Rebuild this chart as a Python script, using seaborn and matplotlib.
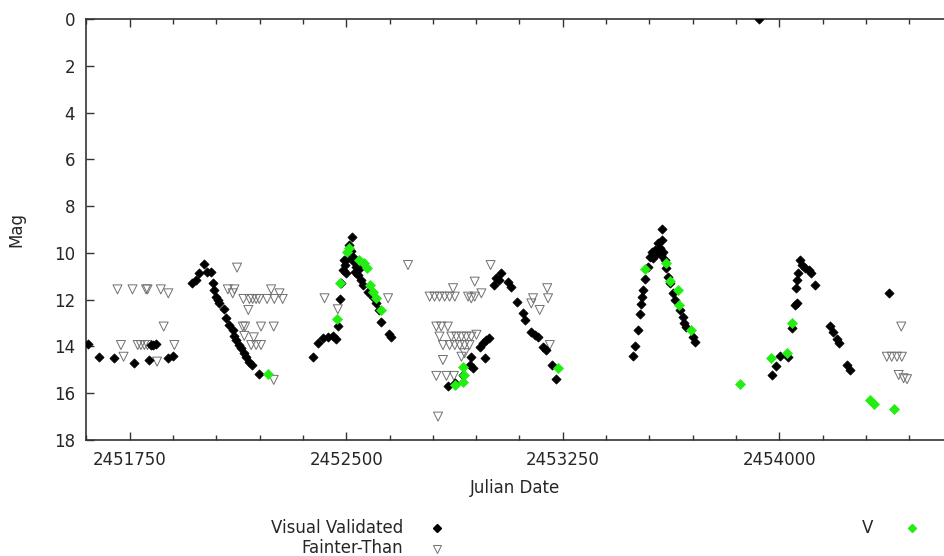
import numpy as np
import pandas as pd
import matplotlib
matplotlib.use("Agg")
import matplotlib.pyplot as plt
from matplotlib.lines import Line2D
from matplotlib.ticker import MultipleLocator
import seaborn as sns

# ---------------- data ----------------
vis_jd = [2451606, 2451645, 2451697, 2451764, 2451818, 2451824, 2451830, 2451841, 2451882, 2451899,
          2451966, 2451980, 2451991, 2452007, 2452018, 2452032, 2452038, 2452042, 2452049, 2452055,
          2452060, 2452078, 2452084, 2452095, 2452107, 2452113, 2452119, 2452130, 2452136, 2452147,
          2452153, 2452165, 2452173, 2452199,
          2452385, 2452402, 2452419, 2452437, 2452454, 2452465, 2452471, 2452477, 2452483, 2452489,
          2452494, 2452497, 2452500, 2452505, 2452511, 2452515, 2452520, 2452523, 2452528, 2452530,
          2452535, 2452541, 2452545, 2452552, 2452558, 2452575, 2452592, 2452604, 2452612, 2452619,
          2452648, 2452656,
          2452852, 2452876, 2452905, 2452927, 2452939, 2452931, 2452962, 2452974, 2452985, 2452993,
          2452979, 2453012, 2453020, 2453028, 2453035, 2453061, 2453072, 2453093, 2453113, 2453118,
          2453141, 2453153, 2453165, 2453182, 2453193, 2453211, 2453225,
          2453494, 2453499, 2453511, 2453517, 2453520, 2453525, 2453528, 2453536, 2453546, 2453552,
          2453558, 2453563, 2453569, 2453575, 2453581, 2453586, 2453590, 2453593, 2453595, 2453597,
          2453603, 2453609, 2453615, 2453621, 2453632, 2453638, 2453655, 2453667, 2453670, 2453678,
          2453701, 2453707,
          2453928, 2453973, 2453987, 2454002, 2454031, 2454045, 2454054, 2454060, 2454057, 2454062,
          2454066, 2454071, 2454077, 2454089, 2454103, 2454111, 2454122, 2454174, 2454186, 2454198,
          2454206, 2454233, 2454244, 2454378]
vis_mag = [13.9, 14.44, 14.48, 14.69, 14.58, 13.94, 13.93, 13.91, 14.51, 14.4,
           11.27, 11.16, 10.87, 10.49, 10.8, 10.8, 11.3, 11.59, 11.89, 12.01,
           12.15, 12.4, 12.8, 13.08, 13.3, 13.55, 13.72, 13.94, 14.08, 14.29,
           14.44, 14.65, 14.79, 15.19,
           14.46, 13.87, 13.65, 13.58, 13.55, 13.69, 13.13, 11.98, 11.3, 10.73,
           10.3, 10.5, 10.87, 10.2, 9.66, 9.9, 9.33, 10.16, 10.4, 10.8,
           10.59, 10.94, 10.7, 11.16, 11.37, 11.66, 11.87, 12.16, 12.44, 12.94,
           13.48, 13.58,
           15.69, 15.58, 15.22, 14.79, 14.93, 14.44, 14.01, 13.87, 13.72, 13.65,
           14.51, 11.37, 11.09, 11.16, 10.87, 11.23, 11.44, 12.09, 12.58, 12.87,
           13.37, 13.51, 13.58, 14.01, 14.15, 14.79, 15.4,
           14.4, 13.98, 13.3, 12.61, 12.2, 11.9, 11.59, 11.13, 10.59, 10.16,
           9.95, 10.2, 9.88, 10.02, 9.59, 9.8, 10.1, 9.45, 8.98, 9.95,
           10.3, 10.66, 11.02, 11.3, 11.73, 12.01, 12.44, 12.73, 13.01, 13.16,
           13.58, 13.8,
           0.0, 15.22, 14.84, 14.41, 14.44, 13.22, 12.23, 12.16, 11.51, 11.16,
           10.87, 10.3, 10.52, 10.66, 10.73, 10.87, 11.37, 13.13, 13.37, 13.69,
           13.87, 14.79, 15.01, 11.7]

v_jd = [2452228, 2452469, 2452480, 2452503, 2452511, 2452546, 2452563, 2452573, 2452581, 2452592,
        2452604, 2452619, 2452876, 2452905, 2452908, 2452905, 2453234, 2453533, 2453609, 2453621,
        2453650, 2453652, 2453693, 2453864, 2453971, 2454026, 2454045, 2454314, 2454326, 2454396]
v_mag = [15.19, 12.83, 11.27, 9.95, 9.8, 10.3, 10.44, 10.66, 11.37, 11.66,
         11.94, 12.44, 15.65, 14.86, 15.22, 15.5, 14.91, 10.7, 10.42, 11.19,
         11.59, 12.23, 13.3, 15.6, 14.51, 14.29, 12.98, 16.29, 16.46, 16.69]

ft_jd = [2451708, 2451760, 2451807, 2451812, 2451858, 2451884, 2451868, 2451720, 2451778, 2451789,
         2451801, 2451812, 2451905, 2451729, 2451845,
         2452122, 2452090, 2452113, 2452107, 2452144, 2452165, 2452176, 2452188, 2452199, 2452226,
         2452251, 2452280, 2452240, 2452269, 2452161, 2452142, 2452150, 2452205, 2452249, 2452147,
         2452180, 2452171, 2452188, 2452205, 2452249,
         2452425, 2452471, 2452645, 2452714, 2453000, 2452870, 2452945, 2452968, 2452789, 2452806,
         2452823, 2452841, 2452858, 2452876, 2452922, 2452933, 2452945, 2452812, 2452829, 2452852,
         2452823, 2452864, 2452881, 2452899, 2452916, 2452933, 2452951, 2452835, 2452858, 2452876,
         2452893, 2452910, 2452927, 2452899, 2452910, 2452835, 2452812, 2452847, 2452873, 2452818,
         2453147, 2453170, 2453196, 2453199, 2453141, 2453205,
         2454422, 2454372, 2454389, 2454407, 2454424, 2454413, 2454430, 2454442]
ft_mag = [11.56, 11.56, 11.56, 11.56, 11.56, 11.73, 13.15, 13.94, 13.94, 13.94,
          13.94, 13.94, 13.94, 14.44, 14.65,
          10.63, 11.56, 11.56, 11.73, 11.97, 11.97, 11.97, 11.97, 11.97, 11.97,
          11.97, 11.97, 11.56, 11.73, 12.44, 13.15, 13.15, 13.15, 13.15, 13.55,
          13.61, 13.94, 13.94, 13.94, 15.43,
          11.94, 12.41, 11.94, 10.52, 10.52, 11.51, 11.23, 11.73, 11.87, 11.87,
          11.87, 11.87, 11.87, 11.87, 11.87, 11.94, 11.87, 13.15, 13.15, 13.15,
          13.58, 13.58, 13.58, 13.58, 13.58, 13.58, 13.5, 13.94, 13.94, 13.94,
          13.94, 13.94, 13.94, 14.44, 14.29, 14.58, 15.26, 15.26, 15.26, 17.0,
          11.94, 12.44, 11.51, 11.94, 12.16, 13.94,
          13.15, 14.44, 14.44, 14.44, 14.44, 15.22, 15.36, 15.4]

x_ticks = [2451750, 2452500, 2453250, 2454000]
y_ticks = list(range(0, 19, 2))
series_labels = ["Visual Validated", "Fainter-Than", "V"]

vis = pd.DataFrame({"jd": vis_jd, "mag": vis_mag})
vband = pd.DataFrame({"jd": v_jd, "mag": v_mag})
fth = pd.DataFrame({"jd": ft_jd, "mag": ft_mag})

# ---------------- style ----------------
sns.set_theme(style="white")
plt.rcParams["font.family"] = ["DejaVu Sans"]
FS = 12

GREEN = "#22ee11"
fig = plt.figure(figsize=(9.44, 5.56), dpi=100)
ax = fig.add_axes([86 / 944, 1 - 440 / 556, 1 - 86 / 944, (440 - 19) / 556])

sns.scatterplot(data=fth, x="jd", y="mag", ax=ax, marker="v", s=42,
                facecolor="none", edgecolor="#707070", linewidth=0.7, zorder=2, legend=False)
sns.scatterplot(data=vis, x="jd", y="mag", ax=ax, marker="D", s=22,
                color="black", edgecolor="black", linewidth=0.5, zorder=3, legend=False)
sns.scatterplot(data=vband, x="jd", y="mag", ax=ax, marker="D", s=26,
                color=GREEN, edgecolor=GREEN, linewidth=0.5, zorder=4, legend=False)

ax.set_xlim(2451599, 2454570)
ax.set_ylim(18, 0)
ax.set_xticks(x_ticks)
ax.set_xticklabels([str(t) for t in x_ticks])
ax.xaxis.set_minor_locator(MultipleLocator(150))
ax.set_yticks(y_ticks)
ax.set_xlabel("Julian Date", fontsize=FS, labelpad=7)
ax.set_ylabel("Mag", fontsize=FS, labelpad=20)

for s in ax.spines.values():
    s.set_color("#333333")
    s.set_linewidth(1.2)
ax.spines["right"].set_visible(False)

ax.tick_params(axis="both", which="major", direction="in", length=6, width=1,
               color="#333333", labelsize=FS, top=True, bottom=True, left=True, right=False,
               pad=8)
ax.tick_params(axis="x", which="minor", direction="in", length=3.5, width=1,
               color="#333333", top=True, bottom=True)
ax.tick_params(axis="y", which="major", pad=8)

# ---------------- legend (below plot) ----------------
fig.text(403 / 944, 1 - 528 / 556, series_labels[0], ha="right", va="center", fontsize=FS)
fig.text(403 / 944, 1 - 548 / 556, series_labels[1], ha="right", va="center", fontsize=FS)
fig.text(873 / 944, 1 - 528 / 556, series_labels[2], ha="right", va="center", fontsize=FS)
fig.add_artist(Line2D([437 / 944], [1 - 528 / 556], marker="D", markersize=4,
                      color="black", linestyle="none", transform=fig.transFigure))
fig.add_artist(Line2D([437 / 944], [1 - 549 / 556], marker="v", markersize=6,
                      markerfacecolor="none", markeredgecolor="#707070", markeredgewidth=0.7,
                      linestyle="none", transform=fig.transFigure))
fig.add_artist(Line2D([912 / 944], [1 - 528 / 556], marker="D", markersize=4,
                      color=GREEN, linestyle="none", transform=fig.transFigure))

fig.savefig("out.png", dpi=100)
